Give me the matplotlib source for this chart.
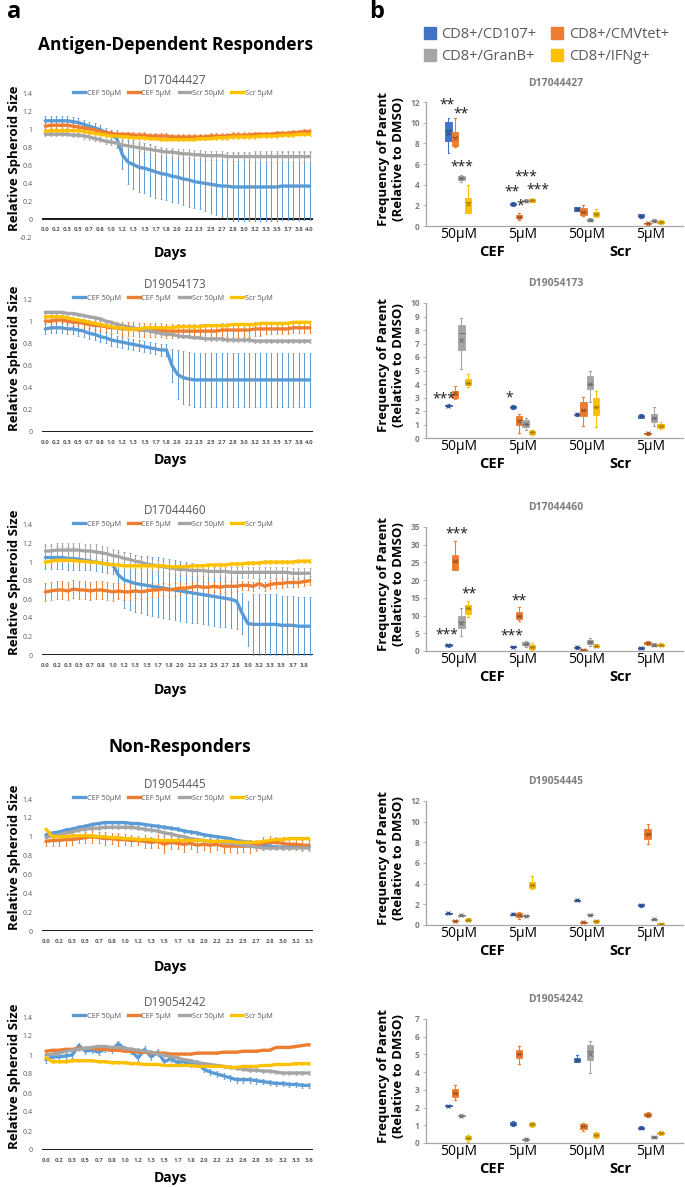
import matplotlib.pyplot as plt
import numpy as np
from matplotlib.lines import Line2D
from matplotlib.ticker import FuncFormatter

W, H = 685, 1187
plt.rcParams['font.family'] = ['Open Sans', 'DejaVu Sans']

# ---------------- panel a data: relative spheroid size ----------------
series_names = ['CEF 50µM', 'CEF 5µM', 'Scr 50µM', 'Scr 5µM']

days_to_4 = ['0.0', '0.2', '0.3', '0.5', '0.7', '0.8', '1.0', '1.2', '1.3', '1.5', '1.7', '1.8', '2.0',
             '2.2', '2.3', '2.5', '2.7', '2.8', '3.0', '3.2', '3.3', '3.5', '3.7', '3.8', '4.0']
days_to_38 = ['0.0', '0.2', '0.3', '0.5', '0.7', '0.8', '1.0', '1.2', '1.3', '1.5', '1.7', '1.8', '2.0',
              '2.2', '2.3', '2.5', '2.7', '2.8', '3.0', '3.2', '3.3', '3.5', '3.7', '3.8']
days_to_33 = ['0.0', '0.2', '0.3', '0.5', '0.7', '0.8', '1.0', '1.2', '1.3', '1.5', '1.7', '1.8', '2.0',
              '2.2', '2.3', '2.5', '2.7', '2.8', '3.0', '3.2', '3.3']
days_to_36 = ['0.0', '0.2', '0.3', '0.5', '0.7', '0.8', '1.0', '1.2', '1.3', '1.5', '1.7', '1.8', '2.0',
              '2.2', '2.3', '2.6', '2.8', '3.0', '3.2', '3.3', '3.6']

# D17044427
p1_cef50 = [1.10, 1.10, 1.10, 1.10, 1.10, 1.09, 1.08, 1.06, 1.04, 1.02,
            1.00, 0.97, 0.94, 0.90, 0.72, 0.64, 0.61, 0.58, 0.57, 0.55,
            0.53, 0.51, 0.50, 0.48, 0.47, 0.45, 0.44, 0.42, 0.41, 0.40,
            0.39, 0.38, 0.37, 0.37, 0.36, 0.36, 0.36, 0.36, 0.36, 0.36,
            0.36, 0.36, 0.36, 0.37, 0.37, 0.37, 0.37, 0.37, 0.37]
p1_cef50_err = [0.05, 0.05, 0.05, 0.05, 0.05, 0.05, 0.05, 0.05, 0.05, 0.05,
                0.05, 0.05, 0.06, 0.10, 0.16, 0.25, 0.27, 0.28, 0.28, 0.29,
                0.29, 0.29, 0.29, 0.29, 0.29, 0.29, 0.30, 0.30, 0.30, 0.31,
                0.32, 0.33, 0.35, 0.37, 0.38, 0.38, 0.38, 0.38, 0.38, 0.38,
                0.38, 0.38, 0.38, 0.38, 0.38, 0.38, 0.38, 0.38, 0.38]
p1_cef5 = [1.04, 1.05, 1.05, 1.05, 1.05, 1.04, 1.03, 1.02, 1.01, 1.00,
           0.98, 0.97, 0.96, 0.95, 0.95, 0.95, 0.94, 0.94, 0.94, 0.93,
           0.93, 0.93, 0.93, 0.92, 0.92, 0.92, 0.92, 0.92, 0.92, 0.92,
           0.93, 0.93, 0.93, 0.93, 0.94, 0.94, 0.94, 0.94, 0.95, 0.95,
           0.95, 0.95, 0.96, 0.96, 0.96, 0.97, 0.97, 0.98, 0.98]
p1_cef5_err = 0.03
p1_scr50 = [0.95, 0.95, 0.95, 0.95, 0.95, 0.94, 0.94, 0.93, 0.92, 0.90,
            0.89, 0.87, 0.86, 0.85, 0.83, 0.82, 0.81, 0.80, 0.79, 0.78,
            0.77, 0.76, 0.75, 0.75, 0.74, 0.73, 0.73, 0.72, 0.72, 0.71,
            0.71, 0.71, 0.71, 0.70, 0.70, 0.70, 0.70, 0.70, 0.70, 0.70,
            0.70, 0.70, 0.70, 0.70, 0.70, 0.70, 0.70, 0.70, 0.70]
p1_scr50_err = [0.02, 0.02, 0.02, 0.02, 0.02, 0.02, 0.02, 0.03, 0.03, 0.03,
                0.03, 0.03, 0.03, 0.04, 0.04, 0.04, 0.04, 0.04, 0.04, 0.05,
                0.05, 0.05, 0.05, 0.05, 0.05, 0.05, 0.05, 0.05, 0.05, 0.05,
                0.05, 0.05, 0.05, 0.05, 0.05, 0.05, 0.05, 0.05, 0.06, 0.06,
                0.06, 0.06, 0.06, 0.06, 0.06, 0.06, 0.06, 0.06, 0.06]
p1_scr5 = [0.98, 0.99, 0.99, 0.99, 0.99, 0.99, 0.99, 0.98, 0.97, 0.96,
           0.95, 0.94, 0.93, 0.93, 0.92, 0.92, 0.91, 0.91, 0.91, 0.90,
           0.90, 0.89, 0.89, 0.89, 0.89, 0.89, 0.89, 0.89, 0.90, 0.90,
           0.90, 0.91, 0.91, 0.91, 0.92, 0.92, 0.92, 0.92, 0.92, 0.93,
           0.93, 0.93, 0.93, 0.94, 0.94, 0.94, 0.95, 0.95, 0.95]
p1_scr5_err = 0.02

# D19054173
p2_cef50 = [0.93, 0.94, 0.94, 0.94, 0.93, 0.93, 0.92, 0.91, 0.89, 0.88,
            0.86, 0.85, 0.83, 0.82, 0.81, 0.80, 0.79, 0.78, 0.77, 0.76,
            0.75, 0.74, 0.74, 0.60, 0.52, 0.49, 0.48, 0.47, 0.47, 0.47,
            0.47, 0.47, 0.47, 0.47, 0.47, 0.47, 0.47, 0.47, 0.47, 0.47,
            0.47, 0.47, 0.47, 0.47, 0.47, 0.47, 0.47, 0.47, 0.47]
p2_cef50_err = [0.05, 0.05, 0.05, 0.05, 0.05, 0.05, 0.05, 0.05, 0.05, 0.05,
                0.05, 0.05, 0.05, 0.05, 0.05, 0.05, 0.05, 0.05, 0.05, 0.05,
                0.05, 0.05, 0.05, 0.15, 0.22, 0.24, 0.24, 0.24, 0.24, 0.24,
                0.24, 0.24, 0.24, 0.24, 0.24, 0.24, 0.24, 0.24, 0.24, 0.24,
                0.24, 0.24, 0.24, 0.24, 0.24, 0.24, 0.24, 0.24, 0.24]
p2_cef5 = [1.00, 1.00, 1.01, 1.01, 1.00, 0.99, 0.99, 0.98, 0.97, 0.96,
           0.96, 0.95, 0.94, 0.94, 0.93, 0.93, 0.93, 0.92, 0.92, 0.92,
           0.92, 0.92, 0.91, 0.91, 0.91, 0.91, 0.91, 0.91, 0.91, 0.91,
           0.91, 0.91, 0.92, 0.92, 0.92, 0.92, 0.92, 0.92, 0.93, 0.93,
           0.93, 0.93, 0.93, 0.93, 0.93, 0.94, 0.94, 0.94, 0.94]
p2_cef5_err = [0.03, 0.03, 0.03, 0.03, 0.03, 0.03, 0.03, 0.04, 0.04, 0.04,
               0.05, 0.05, 0.05, 0.05, 0.06, 0.06, 0.06, 0.06, 0.06, 0.06,
               0.06, 0.06, 0.06, 0.06, 0.06, 0.06, 0.06, 0.06, 0.06, 0.06,
               0.06, 0.06, 0.06, 0.06, 0.06, 0.06, 0.06, 0.06, 0.06, 0.06,
               0.05, 0.05, 0.05, 0.05, 0.05, 0.05, 0.05, 0.05, 0.05]
p2_scr50 = [1.08, 1.08, 1.08, 1.08, 1.07, 1.07, 1.06, 1.05, 1.04, 1.03,
            1.02, 1.00, 0.99, 0.97, 0.96, 0.95, 0.94, 0.93, 0.92, 0.91,
            0.90, 0.89, 0.88, 0.88, 0.87, 0.86, 0.86, 0.85, 0.85, 0.84,
            0.84, 0.84, 0.84, 0.83, 0.83, 0.83, 0.83, 0.83, 0.82, 0.82,
            0.82, 0.82, 0.82, 0.82, 0.82, 0.82, 0.82, 0.82, 0.82]
p2_scr50_err = 0.015
p2_scr5 = [1.04, 1.04, 1.04, 1.04, 1.03, 1.02, 1.01, 1.00, 0.99, 0.98,
           0.97, 0.96, 0.95, 0.94, 0.94, 0.93, 0.93, 0.93, 0.94, 0.94,
           0.94, 0.94, 0.94, 0.94, 0.95, 0.95, 0.95, 0.95, 0.95, 0.96,
           0.96, 0.96, 0.96, 0.96, 0.97, 0.97, 0.97, 0.97, 0.97, 0.98,
           0.98, 0.98, 0.98, 0.98, 0.98, 0.99, 0.99, 0.99, 0.99]
p2_scr5_err = 0.015

# D17044460
p3_cef50 = [1.05, 1.05, 1.05, 1.05, 1.04, 1.04, 1.03, 1.02, 1.01, 1.00,
            0.99, 0.98, 0.97, 0.86, 0.81, 0.79, 0.77, 0.76, 0.75, 0.74,
            0.73, 0.72, 0.71, 0.70, 0.69, 0.68, 0.67, 0.66, 0.65, 0.64,
            0.63, 0.62, 0.61, 0.60, 0.58, 0.45, 0.34, 0.33, 0.33, 0.33,
            0.33, 0.33, 0.32, 0.32, 0.32, 0.31, 0.31, 0.31]
p3_cef50_err = [0.12, 0.12, 0.12, 0.12, 0.12, 0.12, 0.11, 0.11, 0.10, 0.10,
                0.10, 0.10, 0.10, 0.25, 0.30, 0.31, 0.31, 0.31, 0.32, 0.32,
                0.32, 0.32, 0.32, 0.32, 0.32, 0.32, 0.32, 0.32, 0.32, 0.32,
                0.32, 0.32, 0.31, 0.31, 0.30, 0.22, 0.24, 0.33, 0.33, 0.33,
                0.33, 0.33, 0.32, 0.32, 0.32, 0.31, 0.31, 0.31]
p3_cef5 = [0.68, 0.69, 0.70, 0.70, 0.69, 0.71, 0.70, 0.70, 0.69, 0.70,
           0.70, 0.69, 0.68, 0.69, 0.68, 0.68, 0.69, 0.68, 0.69, 0.70,
           0.70, 0.71, 0.70, 0.71, 0.72, 0.72, 0.73, 0.74, 0.73, 0.73,
           0.74, 0.73, 0.74, 0.74, 0.74, 0.75, 0.75, 0.74, 0.77, 0.74,
           0.76, 0.77, 0.77, 0.78, 0.78, 0.78, 0.79, 0.80]
p3_cef5_err = [0.10, 0.10, 0.10, 0.10, 0.10, 0.10, 0.10, 0.10, 0.10, 0.10,
               0.10, 0.10, 0.10, 0.09, 0.09, 0.09, 0.08, 0.08, 0.08, 0.08,
               0.07, 0.07, 0.07, 0.07, 0.07, 0.06, 0.06, 0.06, 0.06, 0.06,
               0.06, 0.06, 0.06, 0.06, 0.05, 0.05, 0.05, 0.05, 0.05, 0.05,
               0.05, 0.05, 0.05, 0.05, 0.05, 0.05, 0.05, 0.05]
p3_scr50 = [1.12, 1.12, 1.13, 1.13, 1.13, 1.13, 1.13, 1.12, 1.12, 1.11,
            1.10, 1.09, 1.07, 1.06, 1.04, 1.03, 1.01, 1.00, 0.98, 0.97,
            0.96, 0.95, 0.94, 0.93, 0.92, 0.92, 0.91, 0.91, 0.91, 0.90,
            0.90, 0.90, 0.90, 0.89, 0.89, 0.89, 0.89, 0.89, 0.89, 0.89,
            0.89, 0.89, 0.89, 0.89, 0.88, 0.88, 0.88, 0.88]
p3_scr50_err = [0.08, 0.08, 0.08, 0.08, 0.08, 0.08, 0.08, 0.08, 0.08, 0.08,
                0.07, 0.07, 0.07, 0.07, 0.07, 0.07, 0.07, 0.06, 0.06, 0.06,
                0.06, 0.06, 0.06, 0.06, 0.06, 0.06, 0.06, 0.06, 0.06, 0.06,
                0.06, 0.06, 0.06, 0.06, 0.06, 0.06, 0.06, 0.06, 0.06, 0.06,
                0.06, 0.06, 0.06, 0.06, 0.06, 0.06, 0.06, 0.06]
p3_scr5 = [1.00, 1.01, 1.02, 1.02, 1.02, 1.02, 1.01, 1.01, 1.00, 1.00,
           0.99, 0.98, 0.97, 0.97, 0.96, 0.96, 0.96, 0.96, 0.96, 0.96,
           0.96, 0.96, 0.95, 0.95, 0.95, 0.95, 0.96, 0.96, 0.96, 0.97,
           0.97, 0.97, 0.97, 0.98, 0.98, 0.98, 0.99, 0.99, 0.99, 1.00,
           1.00, 1.00, 1.00, 1.00, 1.00, 1.01, 1.01, 1.01]
p3_scr5_err = 0.02

# D19054445
p4_cef50 = [1.02, 1.04, 1.05, 1.07, 1.08, 1.10, 1.11, 1.13, 1.14, 1.15,
            1.15, 1.15, 1.15, 1.14, 1.14, 1.13, 1.12, 1.11, 1.10, 1.09,
            1.08, 1.06, 1.05, 1.04, 1.02, 1.01, 1.00, 0.99, 0.98, 0.96,
            0.95, 0.94, 0.92, 0.91, 0.90, 0.89, 0.89, 0.89, 0.90, 0.89,
            0.89]
p4_cef50_err = 0.02
p4_cef5 = [0.95, 0.96, 0.96, 0.97, 0.97, 0.98, 0.99, 1.00, 0.99, 0.98,
           0.98, 0.97, 0.97, 0.96, 0.96, 0.95, 0.94, 0.95, 0.92, 0.94,
           0.93, 0.92, 0.93, 0.91, 0.92, 0.91, 0.92, 0.90, 0.90, 0.90,
           0.90, 0.90, 0.91, 0.93, 0.94, 0.94, 0.93, 0.92, 0.92, 0.91,
           0.91]
p4_cef5_err = [0.05, 0.06, 0.06, 0.07, 0.06, 0.05, 0.06, 0.07, 0.06, 0.07,
               0.06, 0.07, 0.06, 0.06, 0.05, 0.07, 0.06, 0.07, 0.09, 0.07,
               0.06, 0.08, 0.06, 0.07, 0.06, 0.07, 0.06, 0.07, 0.06, 0.07,
               0.06, 0.07, 0.06, 0.07, 0.07, 0.06, 0.07, 0.06, 0.06, 0.06,
               0.06]
p4_scr50 = [0.99, 1.01, 1.02, 1.04, 1.05, 1.07, 1.08, 1.09, 1.09, 1.10,
            1.10, 1.10, 1.10, 1.10, 1.09, 1.08, 1.07, 1.06, 1.04, 1.03,
            1.01, 1.00, 0.98, 0.97, 0.96, 0.95, 0.95, 0.94, 0.93, 0.92,
            0.91, 0.90, 0.89, 0.88, 0.88, 0.88, 0.88, 0.88, 0.88, 0.88,
            0.88]
p4_scr50_err = 0.02
p4_scr5 = [1.08, 1.00, 1.00, 1.00, 1.01, 1.01, 1.01, 1.01, 1.00, 1.00,
           0.99, 0.99, 0.98, 0.98, 0.97, 0.97, 0.97, 0.96, 0.96, 0.96,
           0.96, 0.96, 0.96, 0.96, 0.96, 0.95, 0.95, 0.95, 0.95, 0.94,
           0.94, 0.94, 0.94, 0.95, 0.96, 0.97, 0.97, 0.98, 0.98, 0.98,
           0.98]
p4_scr5_err = 0.01

# D19054242
p5_cef50 = [0.95, 0.98, 0.98, 0.99, 1.00, 1.10, 1.04, 1.05, 1.03, 1.06,
            1.05, 1.12, 1.06, 1.04, 0.97, 1.06, 0.98, 1.03, 0.93, 0.96,
            0.92, 0.93, 0.90, 0.92, 0.85, 0.82, 0.80, 0.78, 0.76, 0.74,
            0.74, 0.74, 0.73, 0.72, 0.71, 0.70, 0.70, 0.69, 0.69, 0.68,
            0.68]
p5_cef50_err = 0.03
p5_cef5 = [1.04, 1.05, 1.05, 1.06, 1.06, 1.07, 1.07, 1.07, 1.06, 1.06,
           1.05, 1.05, 1.04, 1.04, 1.03, 1.03, 1.02, 1.02, 1.02, 1.01,
           1.01, 1.01, 1.01, 1.02, 1.02, 1.02, 1.02, 1.03, 1.03, 1.03,
           1.04, 1.04, 1.04, 1.05, 1.05, 1.08, 1.08, 1.08, 1.09, 1.10,
           1.11]
p5_cef5_err = 0.01
p5_scr50 = [1.00, 1.01, 1.02, 1.04, 1.05, 1.06, 1.07, 1.08, 1.09, 1.09,
            1.08, 1.08, 1.07, 1.06, 1.05, 1.04, 1.03, 1.01, 1.00, 0.98,
            0.97, 0.95, 0.94, 0.92, 0.91, 0.90, 0.89, 0.88, 0.87, 0.86,
            0.85, 0.84, 0.84, 0.83, 0.83, 0.82, 0.81, 0.81, 0.81, 0.81,
            0.81]
p5_scr50_err = 0.02
p5_scr5 = [0.97, 0.93, 0.93, 0.93, 0.94, 0.94, 0.94, 0.94, 0.93, 0.93,
           0.92, 0.92, 0.92, 0.91, 0.91, 0.90, 0.90, 0.90, 0.89, 0.89,
           0.89, 0.89, 0.89, 0.88, 0.88, 0.88, 0.88, 0.88, 0.87, 0.87,
           0.88, 0.88, 0.88, 0.89, 0.89, 0.90, 0.90, 0.90, 0.91, 0.91,
           0.91]
p5_scr5_err = 0.01

# ---------------- panel b data: frequency of parent (box stats) ----------------
# rows: CD107, CMVtet, GranB, IFNg ; columns: CEF 50, CEF 5, Scr 50, Scr 5
markers_b = ['CD8+/CD107+', 'CD8+/CMVtet+', 'CD8+/GranB+', 'CD8+/IFNg+']
conc_labels = ['50µM', '5µM', '50µM', '5µM']
group_labels = ['CEF', 'Scr']

b1_lo = [[7.1, 1.9, 1.45, 0.8], [7.6, 0.6, 1.0, 0.1], [4.3, 2.35, 0.45, 0.4], [1.3, 2.3, 0.9, 0.2]]
b1_q1 = [[8.2, 2.0, 1.5, 0.85], [7.7, 0.75, 1.1, 0.2], [4.5, 2.4, 0.5, 0.45], [1.3, 2.35, 0.95, 0.3]]
b1_med = [[9.3, 2.1, 1.65, 1.0], [8.6, 0.9, 1.4, 0.25], [4.6, 2.45, 0.6, 0.5], [2.3, 2.5, 1.15, 0.4]]
b1_q3 = [[10.1, 2.2, 1.8, 1.15], [9.1, 1.05, 1.7, 0.3], [4.8, 2.55, 0.7, 0.6], [2.7, 2.6, 1.35, 0.5]]
b1_hi = [[10.5, 2.3, 1.85, 1.2], [10.5, 1.3, 2.0, 0.4], [4.9, 2.6, 0.75, 0.65], [4.0, 2.65, 1.6, 0.6]]
b1_mean = [[9.0, 2.1, 1.65, 1.0], [8.5, 0.9, 1.4, 0.25], [4.65, 2.45, 0.6, 0.5], [2.1, 2.5, 1.15, 0.4]]
b1_stars = [(0.33, 11.7, '**'), (0.55, 10.8, '**'), (0.55, 5.7, '***'),
            (1.34, 3.3, '**'), (1.47, 1.9, '*'), (1.56, 4.7, '***'), (1.74, 3.5, '***')]

b2_lo = [[2.3, 2.15, 1.65, 1.45], [2.9, 0.35, 0.9, 0.25], [5.1, 0.6, 2.7, 0.9], [3.8, 0.25, 0.85, 0.7]]
b2_q1 = [[2.35, 2.2, 1.7, 1.5], [3.0, 0.95, 1.6, 0.3], [6.5, 0.85, 3.6, 1.2], [3.9, 0.3, 1.7, 0.75]]
b2_med = [[2.4, 2.3, 1.75, 1.6], [3.25, 1.3, 2.1, 0.35], [7.8, 1.05, 4.0, 1.5], [4.1, 0.45, 2.3, 0.9]]
b2_q3 = [[2.45, 2.4, 1.8, 1.7], [3.5, 1.6, 2.7, 0.4], [8.35, 1.3, 4.6, 1.8], [4.35, 0.55, 3.0, 1.05]]
b2_hi = [[2.5, 2.45, 1.85, 1.75], [3.85, 1.8, 3.05, 0.45], [8.9, 1.5, 4.95, 2.3], [4.75, 0.6, 3.5, 1.2]]
b2_mean = [[2.4, 2.3, 1.75, 1.6], [3.3, 1.25, 2.1, 0.35], [7.25, 1.05, 4.0, 1.45], [4.1, 0.45, 2.3, 0.9]]
b2_stars = [(0.27, 2.9, '***'), (1.3, 3.0, '*')]

b3_lo = [[1.2, 0.9, 0.7, 0.5], [23.0, 8.5, 0.0, 1.8], [4.3, 1.2, 1.5, 1.3], [9.5, 0.3, 1.0, 1.3]]
b3_q1 = [[1.3, 1.0, 0.8, 0.6], [23.0, 9.0, 0.1, 2.0], [6.5, 1.6, 2.0, 1.5], [10.5, 0.7, 1.2, 1.5]]
b3_med = [[1.6, 1.2, 1.0, 0.8], [25.5, 9.8, 0.3, 2.3], [8.2, 2.0, 2.5, 1.8], [12.0, 1.2, 1.5, 1.8]]
b3_q3 = [[1.9, 1.4, 1.2, 1.0], [27.0, 11.0, 0.5, 2.6], [10.0, 2.4, 3.0, 2.0], [13.0, 1.8, 1.8, 2.1]]
b3_hi = [[2.0, 1.5, 1.3, 1.1], [31.0, 12.3, 0.7, 2.8], [12.2, 2.8, 3.6, 2.2], [14.2, 2.3, 2.1, 2.3]]
b3_mean = [[1.6, 1.2, 1.0, 0.8], [25.5, 9.8, 0.3, 2.3], [8.0, 2.0, 2.5, 1.8], [12.0, 1.2, 1.5, 1.8]]
b3_stars = [(0.33, 4.5, '***'), (0.48, 33.0, '***'), (0.67, 16.1, '**'),
            (1.33, 4.2, '***'), (1.44, 14.1, '**')]

b4_lo = [[1.05, 0.95, 2.3, 1.75], [0.3, 0.6, 0.15, 7.8], [0.85, 0.8, 0.9, 0.45], [0.35, 3.5, 0.2, 0.0]]
b4_q1 = [[1.1, 1.0, 2.35, 1.8], [0.35, 0.8, 0.2, 8.3], [0.9, 0.85, 0.95, 0.5], [0.4, 3.6, 0.25, 0.05]]
b4_med = [[1.15, 1.05, 2.4, 1.9], [0.4, 1.0, 0.25, 8.8], [0.95, 0.9, 1.0, 0.55], [0.5, 3.9, 0.35, 0.1]]
b4_q3 = [[1.2, 1.1, 2.45, 2.0], [0.45, 1.15, 0.3, 9.3], [1.0, 0.95, 1.05, 0.6], [0.6, 4.2, 0.45, 0.15]]
b4_hi = [[1.25, 1.15, 2.5, 2.05], [0.5, 1.3, 0.35, 9.8], [1.05, 1.0, 1.1, 0.65], [0.65, 4.7, 0.5, 0.2]]
b4_mean = [[1.15, 1.05, 2.4, 1.9], [0.4, 1.0, 0.25, 8.8], [0.95, 0.9, 1.0, 0.55], [0.5, 3.9, 0.35, 0.1]]
b4_stars = []

b5_lo = [[2.05, 0.95, 4.55, 0.78], [2.45, 4.45, 0.7, 1.45], [1.45, 0.12, 3.95, 0.28], [0.05, 0.9, 0.3, 0.45]]
b5_q1 = [[2.08, 1.0, 4.6, 0.8], [2.6, 4.8, 0.8, 1.5], [1.5, 0.15, 4.7, 0.3], [0.2, 0.95, 0.35, 0.5]]
b5_med = [[2.1, 1.1, 4.7, 0.85], [2.85, 5.05, 0.95, 1.6], [1.55, 0.2, 5.2, 0.35], [0.3, 1.05, 0.45, 0.55]]
b5_q3 = [[2.12, 1.2, 4.8, 0.9], [3.05, 5.25, 1.1, 1.7], [1.6, 0.25, 5.55, 0.4], [0.4, 1.15, 0.55, 0.6]]
b5_hi = [[2.15, 1.25, 4.95, 0.95], [3.3, 5.5, 1.15, 1.75], [1.65, 0.28, 5.75, 0.42], [0.45, 1.2, 0.6, 0.65]]
b5_mean = [[2.1, 1.1, 4.7, 0.85], [2.85, 5.05, 0.95, 1.6], [1.55, 0.2, 5.05, 0.35], [0.3, 1.05, 0.45, 0.55]]
b5_stars = []

line_colors = ['#5B9BD5', '#ED7D31', '#A5A5A5', '#FFC000']
box_colors = ['#4472C4', '#ED7D31', '#A5A5A5', '#FFC000']
box_offsets = [-0.15, -0.05, 0.05, 0.15]

fig = plt.figure(figsize=(W / 100, H / 100), dpi=100)


def px_axes(x0, y0, x1, y1):
    return fig.add_axes([x0 / W, 1 - y1 / H, (x1 - x0) / W, (y1 - y0) / H])


def ftext(x, y, s, **kw):
    return fig.text(x / W, 1 - y / H, s, **kw)


def darker(c, f=0.65):
    r, g, b = [int(c[i:i + 2], 16) / 255 for i in (1, 3, 5)]
    return (r * f, g * f, b * f)


def line_panel(top, bottom, title, labels, values, errors, ymin, ymax):
    ax = px_axes(42, top, 313, bottom)
    x = np.arange(len(values[0]))
    for v, e, c in zip(values, errors, line_colors):
        ax.errorbar(x, v, yerr=e, color=c, lw=2.4, elinewidth=0.7,
                    capsize=0.8, capthick=0.5, solid_capstyle='round')
    ax.axhline(0, color='#1a1a1a', lw=1.4, zorder=0)
    ax.set_xlim(-0.6, len(x) - 0.4)
    ax.set_ylim(ymin, ymax)
    ax.set_yticks(np.arange(ymin, ymax + 0.01, 0.2))
    ax.yaxis.set_major_formatter(FuncFormatter(lambda v, p: f'{v:g}'))
    ax.tick_params(axis='y', length=0, pad=7, labelsize=5, labelcolor='#595959')
    ax.set_xticks([])
    for xi, lab in zip(x[::2], labels):
        ax.annotate(lab, (xi, 0), xytext=(0, -7.6), textcoords='offset points',
                    ha='center', va='center', fontsize=4.3, color='#595959', fontweight='bold')
    for s in ax.spines.values():
        s.set_visible(False)
    ax.set_facecolor('none')
    ftext(175, top - 14, title, ha='center', va='center', fontsize=8.5, color='#595959')
    handles = [Line2D([], [], color=c, lw=2.4) for c in line_colors]
    ax.legend(handles, series_names, loc='center', ncol=4, frameon=False,
              bbox_to_anchor=(173 / W, 1 - (top - 1) / H), bbox_transform=fig.transFigure,
              fontsize=5.3, handlelength=1.6, handletextpad=0.2, columnspacing=1.0,
              labelcolor='#595959')
    ftext(15, (top - 15 + bottom) / 2, 'Relative Spheroid Size', rotation=90, ha='center',
          va='center', fontsize=9.5, fontweight='bold')
    return ax


def box_panel(top, bottom, title, lo, q1, med, q3, hi, mean, ymax, ystep, stars):
    ax = px_axes(426, top, 683, bottom)
    for s in range(4):
        stats, pos = [], []
        for c in range(4):
            stats.append(dict(whislo=lo[s][c], q1=q1[s][c], med=med[s][c], q3=q3[s][c],
                              whishi=hi[s][c], mean=mean[s][c]))
            pos.append(c + 0.5 + box_offsets[s])
        col = box_colors[s]
        dk = darker(col)
        ax.bxp(stats, positions=pos, widths=0.1, capwidths=0.03, patch_artist=True,
               showmeans=True, showfliers=False, manage_ticks=False,
               boxprops=dict(facecolor=col, edgecolor=col, lw=0.6),
               whiskerprops=dict(color=col, lw=0.8), capprops=dict(color=col, lw=0.8),
               medianprops=dict(color=dk, lw=0.6),
               meanprops=dict(marker='x', markeredgecolor=dk, markersize=3.5, markeredgewidth=0.7))
    for (sx, sy, txt) in stars:
        ax.text(sx, sy, txt, ha='center', va='center', fontsize=10, color='#1a1a1a')
    ax.set_xlim(0, 4)
    ax.set_ylim(0, ymax)
    ax.set_yticks(np.arange(0, ymax + ystep / 2, ystep))
    ax.yaxis.set_major_formatter(FuncFormatter(lambda v, p: f'{v:g}'))
    ax.tick_params(axis='y', length=2.5, width=0.6, color='#a6a6a6', pad=2,
                   labelsize=6, labelcolor='#7f7f7f')
    for lab in ax.get_yticklabels():
        lab.set_fontweight('bold')
    ax.set_xticks([0.5, 1.5, 2.5, 3.5])
    ax.set_xticklabels(conc_labels, fontsize=10)
    ax.tick_params(axis='x', length=0, pad=1)
    for gx, g in zip([1.02, 3.02], group_labels):
        ax.annotate(g, (gx, 0), xycoords=('data', 'axes fraction'), xytext=(0, -19),
                    textcoords='offset points', ha='center', va='center',
                    fontsize=10.5, fontweight='bold')
    for side in ['top', 'right']:
        ax.spines[side].set_visible(False)
    for side in ['left', 'bottom']:
        ax.spines[side].set_color('#a6a6a6')
        ax.spines[side].set_linewidth(0.9)
    ax.set_facecolor('none')
    ftext(556, top - 19, title, ha='center', va='center', fontsize=7.5,
          color='#7f7f7f', fontweight='bold')
    ftext(391, (top + bottom) / 2 - 5, 'Frequency of Parent\n(Relative to DMSO)', rotation=90,
          ha='center', va='center', fontsize=9.5, fontweight='bold', linespacing=1.1)
    return ax


# headings
ftext(14, 12, 'a', ha='center', va='center', fontsize=17, fontweight='bold')
ftext(377, 12, 'b', ha='center', va='center', fontsize=17, fontweight='bold')
ftext(175, 45, 'Antigen-Dependent Responders', ha='center', va='center', fontsize=12.5, fontweight='bold')
ftext(180, 747, 'Non-Responders', ha='center', va='center', fontsize=12.5, fontweight='bold')

# panel a
line_panel(94, 237, 'D17044427', days_to_4, [p1_cef50, p1_cef5, p1_scr50, p1_scr5],
           [p1_cef50_err, p1_cef5_err, p1_scr50_err, p1_scr5_err], -0.2, 1.4)
line_panel(299, 432, 'D19054173', days_to_4, [p2_cef50, p2_cef5, p2_scr50, p2_scr5],
           [p2_cef50_err, p2_cef5_err, p2_scr50_err, p2_scr5_err], 0, 1.2)
line_panel(525, 655, 'D17044460', days_to_38, [p3_cef50, p3_cef5, p3_scr50, p3_scr5],
           [p3_cef50_err, p3_cef5_err, p3_scr50_err, p3_scr5_err], 0, 1.4)
line_panel(799, 931, 'D19054445', days_to_33, [p4_cef50, p4_cef5, p4_scr50, p4_scr5],
           [p4_cef50_err, p4_cef5_err, p4_scr50_err, p4_scr5_err], 0, 1.4)
line_panel(1017, 1150, 'D19054242', days_to_36, [p5_cef50, p5_cef5, p5_scr50, p5_scr5],
           [p5_cef50_err, p5_cef5_err, p5_scr50_err, p5_scr5_err], 0, 1.4)
for dy in [253, 460, 690, 967, 1178]:
    ftext(170, dy, 'Days', ha='center', va='center', fontsize=10, fontweight='bold')

# panel b
box_panel(102, 226, 'D17044427', b1_lo, b1_q1, b1_med, b1_q3, b1_hi, b1_mean, 12, 2, b1_stars)
box_panel(303, 438, 'D19054173', b2_lo, b2_q1, b2_med, b2_q3, b2_hi, b2_mean, 10, 1, b2_stars)
box_panel(527, 651, 'D17044460', b3_lo, b3_q1, b3_med, b3_q3, b3_hi, b3_mean, 35, 5, b3_stars)
box_panel(801, 925, 'D19054445', b4_lo, b4_q1, b4_med, b4_q3, b4_hi, b4_mean, 12, 2, b4_stars)
box_panel(1019, 1143, 'D19054242', b5_lo, b5_q1, b5_med, b5_q3, b5_hi, b5_mean, 7, 1, b5_stars)

order = [0, 2, 1, 3]
leg_handles = [Line2D([], [], marker='s', ls='', color=box_colors[i], markersize=8) for i in order]
fig.legend(leg_handles, [markers_b[i] for i in order], loc='upper left', ncol=2, frameon=False,
           bbox_to_anchor=(411 / W, 1 - 14 / H), fontsize=10.5, handlelength=0.8,
           handletextpad=0.4, columnspacing=1.0, labelspacing=0.5, labelcolor='#595959')

fig.savefig('out.png', dpi=100)
